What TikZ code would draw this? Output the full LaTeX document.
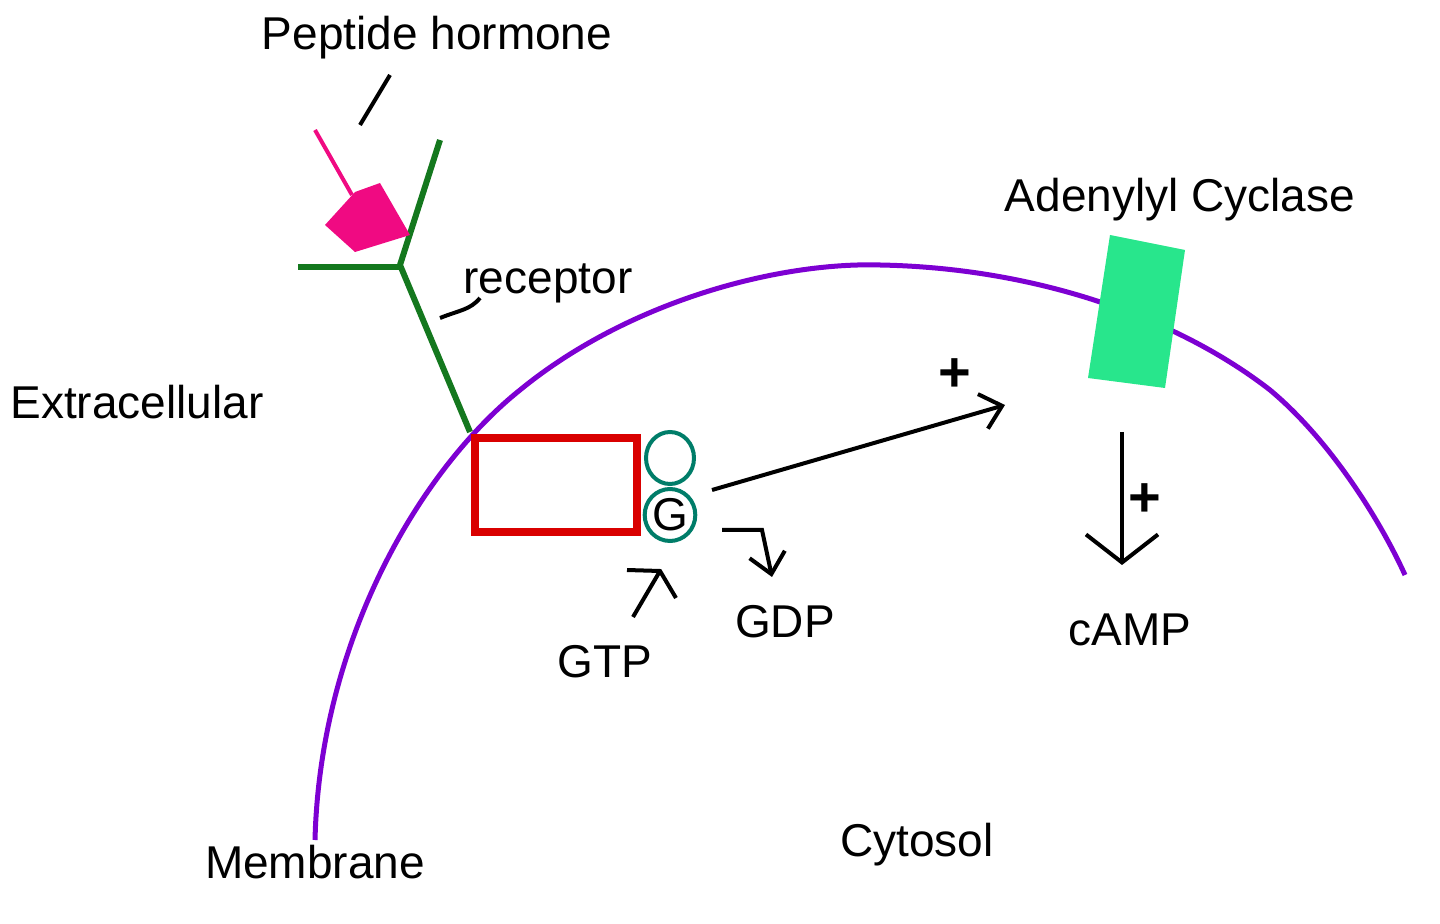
\documentclass[tikz,border=0pt]{standalone}
\usepackage{fontspec}
\setmainfont{Liberation Sans}
\usetikzlibrary{arrows.meta,shapes.geometric}
\definecolor{memb}{RGB}{125,0,210}
\definecolor{rec}{RGB}{20,120,30}
\definecolor{horm}{RGB}{240,10,130}
\definecolor{gp}{RGB}{0,125,105}
\definecolor{ac}{RGB}{40,230,140}
\begin{document}
\begin{tikzpicture}[x=0.5pt,y=-0.5pt,
  lab/.style={font=\fontsize{23}{26}\selectfont,inner sep=0pt},
  arr/.style={line width=2pt,-{Straight Barb[length=10pt,width=18pt,line width=2pt]}},
  bigarr/.style={line width=2pt,-{Straight Barb[length=14pt,width=36pt,line width=2pt]}}]
\useasboundingbox (0,0) rectangle (1440,924);
% membrane
\draw[memb,line width=2.5pt] (315,840) .. controls (320,640) and (420,470) .. (520,390) .. controls (630,300) and (780,262) .. (880,265) .. controls (1040,268) and (1180,320) .. (1270,390) .. controls (1330,440) and (1380,520) .. (1405,575);
% receptor
\draw[rec,line width=3pt] (470,432) -- (400,265) -- (440,140);
\draw[rec,line width=3pt] (298,267) -- (400,267);
% hormone
\draw[horm,line width=2pt] (315,130) -- (352,195);
\fill[horm] (325,225) -- (355,192) -- (380,183) -- (410,235) -- (355,252) -- cycle;
% G-protein complex
\draw[red!85!black,line width=4pt] (475,438) rectangle (637,532);
\node[draw=gp,line width=2pt,ellipse,minimum width=24pt,minimum height=26pt,inner sep=0pt] (g1) at (670,458) {};
\node[draw=gp,line width=2pt,ellipse,minimum width=24pt,minimum height=26pt,inner sep=0pt,font=\fontsize{23}{26}\selectfont] (g2) at (670,515) {G};
% adenylyl cyclase
\fill[ac] (1110,235) -- (1185,250) -- (1165,388) -- (1088,378) -- cycle;
% arrows
\coordinate (a1) at (712,490); \coordinate (a2) at (1005,405);
\draw[arr] (a1) -- (a2);
\node[lab,font=\fontsize{28}{30}\selectfont\bfseries] (p1) at (955,375) {+};
\coordinate (b1) at (1122,432); \coordinate (b2) at (1122,565);
\draw[bigarr] (b1) -- (b2);
\node[lab,font=\fontsize{28}{30}\selectfont\bfseries] (p2) at (1145,500) {+};
\coordinate (c1) at (633,617); \coordinate (c2) at (660,571); \coordinate (c3) at (627,570); \coordinate (c4) at (676,598);
\draw[line width=2pt] (c1) -- (c2);
\draw[line width=2pt] (c3) -- (c2) -- (c4);
\coordinate (d1) at (722,530); \coordinate (d2) at (762,530); \coordinate (d3) at (772,577);
\draw[arr] (d1) -- (d2) -- (d3);
% leaders
\draw[line width=2pt] (390,75) -- (360,125);
\draw[line width=2pt] (440,318) .. controls (460,310) and (470,310) .. (480,298);
% labels
\node[lab] (t1) at (437,38) {Peptide hormone};
\node[lab] (t2) at (548,283) {receptor};
\node[lab] (t3) at (137,402) {Extracellular};
\node[lab] (t4) at (315,862) {Membrane};
\node[lab] (t5) at (917,845) {Cytosol};
\node[lab] (t6) at (1180,200) {Adenylyl Cyclase};
\node[lab] (t7) at (1130,630) {cAMP};
\node[lab] (t8) at (785,622) {GDP};
\node[lab] (t9) at (605,662) {GTP};
\end{tikzpicture}
\end{document}
